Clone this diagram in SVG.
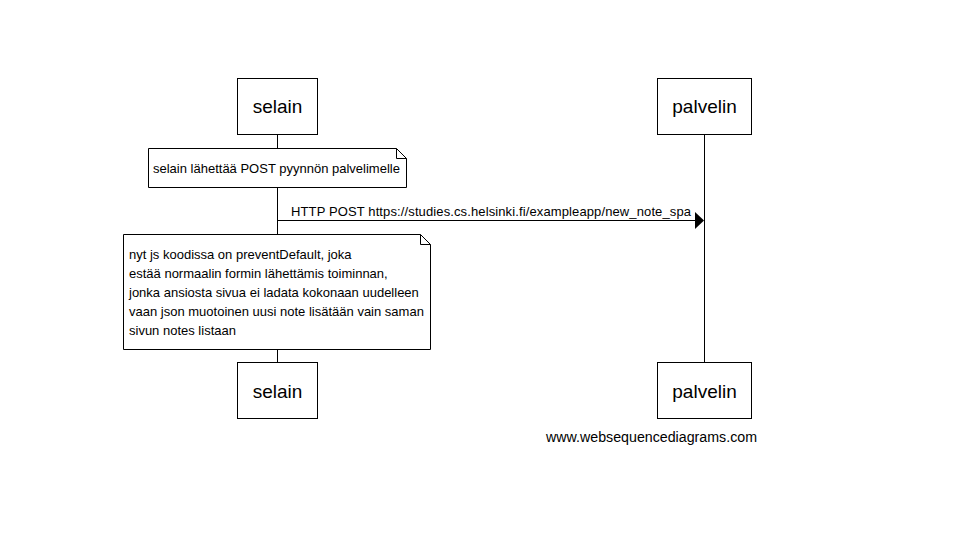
<svg xmlns="http://www.w3.org/2000/svg" width="957" height="549" viewBox="0 0 957 549">
<style>
.box{fill:#fff;stroke:#000;stroke-width:1}
.lbl{font-family:"Liberation Sans",Arial,sans-serif;font-size:19px;fill:#000;text-anchor:middle}
.t{font-family:"Liberation Sans",Arial,sans-serif;font-size:13px;fill:#000}
.ln{stroke:#000;stroke-width:1;fill:none}
</style>
<rect width="957" height="549" fill="#fff"/>
<g id="connectors">
<line class="ln" x1="277.5" y1="134" x2="277.5" y2="362"/>
<line class="ln" x1="704.5" y1="134" x2="704.5" y2="362"/>
<line class="ln" x1="277" y1="220.5" x2="696" y2="220.5"/>
<polygon points="695,212 704,220.5 695,229" fill="#000"/>
<text class="t" x="291" y="216" textLength="400" lengthAdjust="spacing">HTTP POST https://studies.cs.helsinki.fi/exampleapp/new_note_spa</text>
</g>
<g id="selain-top"><rect class="box" x="237.5" y="78.5" width="80" height="56"/><text class="lbl" x="277.5" y="113">selain</text></g>
<g id="palvelin-top"><rect class="box" x="657.5" y="78.5" width="94" height="56"/><text class="lbl" x="704.5" y="113">palvelin</text></g>
<g id="selain-bottom"><rect class="box" x="237.5" y="362.5" width="80" height="56"/><text class="lbl" x="277.5" y="398">selain</text></g>
<g id="palvelin-bottom"><rect class="box" x="657.5" y="362.5" width="94" height="56"/><text class="lbl" x="704.5" y="398">palvelin</text></g>
<g id="note1">
<path class="box" d="M148.5,148.5 H396.5 L406.5,158.5 V187.5 H148.5 Z"/>
<path class="ln" d="M396.5,148.5 V158.5 H406.5"/>
<text class="t" x="153" y="173">selain lähettää POST pyynnön palvelimelle</text>
</g>
<g id="note2">
<path class="box" d="M123.5,234.5 H420.5 L430.5,244.5 V349.5 H123.5 Z"/>
<path class="ln" d="M420.5,234.5 V244.5 H430.5"/>
<text class="t" x="129" y="259">nyt js koodissa on preventDefault, joka</text>
<text class="t" x="129" y="278">estää normaalin formin lähettämis toiminnan,</text>
<text class="t" x="129" y="297">jonka ansiosta sivua ei ladata kokonaan uudelleen</text>
<text class="t" x="129" y="316">vaan json muotoinen uusi note lisätään vain saman</text>
<text class="t" x="129" y="335">sivun notes listaan</text>
</g>
<text class="t" x="546" y="442" style="font-size:14px" textLength="211" lengthAdjust="spacingAndGlyphs">www.websequencediagrams.com</text>
</svg>
